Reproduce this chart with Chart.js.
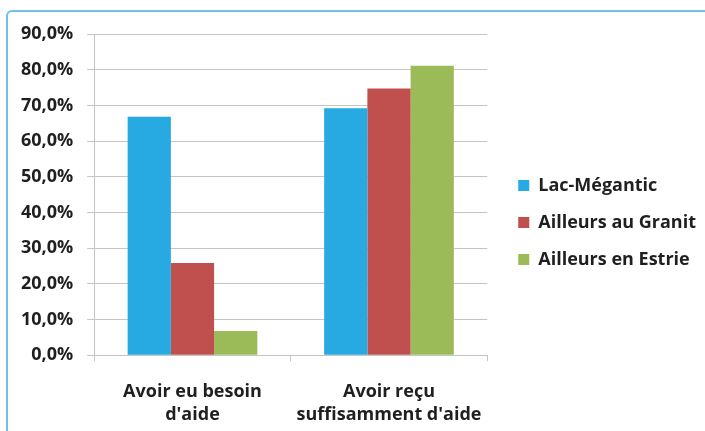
<!DOCTYPE html>
<html>
<head>
<meta charset="utf-8">
<script src="https://cdn.jsdelivr.net/npm/chart.js@4"></script>
<style>
  html, body { margin: 0; padding: 0; width: 705px; height: 431px; overflow: hidden; background: #fff; }
  .frame {
    position: absolute; left: 6px; top: 10px; width: 720px; height: 440px;
    border: 2px solid #6ec1ea; border-radius: 6px;
  }
  .wrap { position: absolute; left: 0; top: 0; width: 705px; height: 431px; }
</style>
</head>
<body>
<div class="frame"></div>
<div class="wrap"><canvas id="chart"></canvas></div>
<script>
const categories = [['Avoir eu besoin', "d'aide"], ['Avoir reçu', "suffisamment d'aide"]];
const seriesNames = ['Lac-Mégantic', 'Ailleurs au Granit', 'Ailleurs en Estrie'];
const lacMegantic = [66.8, 69.2];
const ailleursGranit = [25.8, 74.7];
const ailleursEstrie = [6.8, 81.1];
const colors = ['#27a9e1', '#c0504d', '#9bbb59'];

const seriesValues = [lacMegantic, ailleursGranit, ailleursEstrie];
const textColor = '#1f1f1f';
const gridColor = '#c4c4c4';
const font = { family: 'Open Sans', size: 18, weight: 'bold' };

// nudge the legend a bit right and up, like the original
const legendOffset = {
    id: 'legendOffset',
    afterLayout(chart) {
        const lg = chart.legend;
        lg.left += 12;
        lg.right = chart.width;
        lg.top -= 8; lg.bottom -= 8;
    }
};

new Chart(document.getElementById('chart'), {
    type: 'bar',
    data: {
        labels: categories,
        datasets: seriesNames.map((name, i) => ({
            label: name,
            data: seriesValues[i],
            backgroundColor: colors[i],
            barPercentage: 1,
            categoryPercentage: 0.66
        }))
    },
    options: {
        responsive: true,
        maintainAspectRatio: false,
        animation: false,
        layout: { padding: { left: 7, top: 34, right: 11, bottom: 4 } },
        plugins: {
            legend: {
                position: 'right',
                maxWidth: 300,
                labels: {
                    boxWidth: 11,
                    boxHeight: 11,
                    padding: 19,
                    color: textColor,
                    font: font
                }
            },
            tooltip: { enabled: false }
        },
        scales: {
            x: {
                grid: { drawOnChartArea: false, drawTicks: true, tickLength: 6, color: gridColor },
                border: { color: gridColor },
                ticks: {
                    color: textColor,
                    padding: 19,
                    maxRotation: 0,
                    font: { ...font, lineHeight: 1.3 }
                },
                afterFit: s => { s.height -= 19; }
            },
            y: {
                min: 0,
                max: 90,
                grid: { color: gridColor, tickLength: 7 },
                border: { color: gridColor },
                ticks: {
                    stepSize: 10,
                    color: textColor,
                    padding: 14,
                    font: font,
                    callback: v => v.toFixed(1).replace('.', ',') + '%'
                }
            }
        }
    },
    plugins: [legendOffset]
});
</script>
</body>
</html>
